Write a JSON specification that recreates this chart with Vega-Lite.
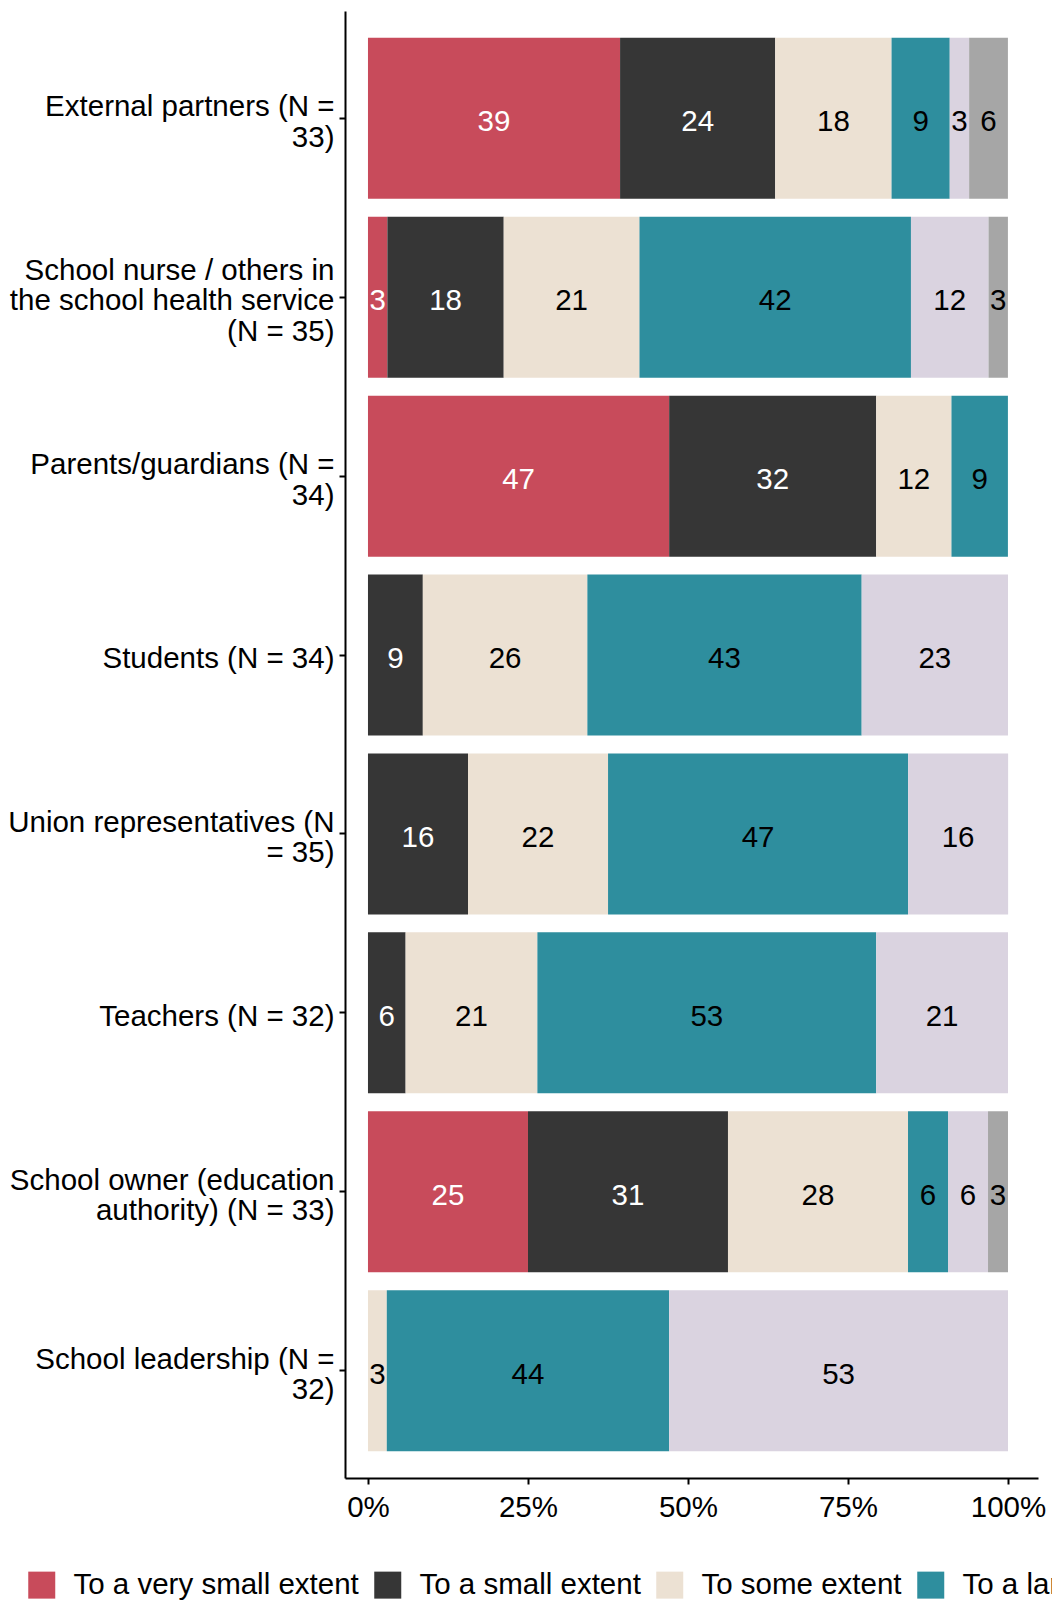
{
  "$schema": "https://vega.github.io/schema/vega-lite/v6.json",
  "width": 693,
  "height": 1467,
  "autosize": {"type": "none"},
  "padding": {"left": 345, "top": 11, "right": 14, "bottom": 128},
  "background": "white",
  "config": {"view": {"stroke": null}, "font": "Liberation Sans"},
  "data": {"values": [
    {"group": "External partners (N =\n33)", "cat": "To a very small extent", "k": 1, "pct": 39.39},
    {"group": "External partners (N =\n33)", "cat": "To a small extent", "k": 2, "pct": 24.24},
    {"group": "External partners (N =\n33)", "cat": "To some extent", "k": 3, "pct": 18.18},
    {"group": "External partners (N =\n33)", "cat": "To a large extent", "k": 4, "pct": 9.09},
    {"group": "External partners (N =\n33)", "cat": "To a very large extent", "k": 5, "pct": 3.03},
    {"group": "External partners (N =\n33)", "cat": "Don't know", "k": 6, "pct": 6.06},

    {"group": "School nurse / others in\nthe school health service\n(N = 35)", "cat": "To a very small extent", "k": 1, "pct": 3.03},
    {"group": "School nurse / others in\nthe school health service\n(N = 35)", "cat": "To a small extent", "k": 2, "pct": 18.18},
    {"group": "School nurse / others in\nthe school health service\n(N = 35)", "cat": "To some extent", "k": 3, "pct": 21.21},
    {"group": "School nurse / others in\nthe school health service\n(N = 35)", "cat": "To a large extent", "k": 4, "pct": 42.42},
    {"group": "School nurse / others in\nthe school health service\n(N = 35)", "cat": "To a very large extent", "k": 5, "pct": 12.12},
    {"group": "School nurse / others in\nthe school health service\n(N = 35)", "cat": "Don't know", "k": 6, "pct": 3.03},

    {"group": "Parents/guardians (N =\n34)", "cat": "To a very small extent", "k": 1, "pct": 47.06},
    {"group": "Parents/guardians (N =\n34)", "cat": "To a small extent", "k": 2, "pct": 32.35},
    {"group": "Parents/guardians (N =\n34)", "cat": "To some extent", "k": 3, "pct": 11.76},
    {"group": "Parents/guardians (N =\n34)", "cat": "To a large extent", "k": 4, "pct": 8.82},

    {"group": "Students (N = 34)", "cat": "To a small extent", "k": 2, "pct": 8.57},
    {"group": "Students (N = 34)", "cat": "To some extent", "k": 3, "pct": 25.71},
    {"group": "Students (N = 34)", "cat": "To a large extent", "k": 4, "pct": 42.86},
    {"group": "Students (N = 34)", "cat": "To a very large extent", "k": 5, "pct": 22.86},

    {"group": "Union representatives (N\n= 35)", "cat": "To a small extent", "k": 2, "pct": 15.63},
    {"group": "Union representatives (N\n= 35)", "cat": "To some extent", "k": 3, "pct": 21.88},
    {"group": "Union representatives (N\n= 35)", "cat": "To a large extent", "k": 4, "pct": 46.88},
    {"group": "Union representatives (N\n= 35)", "cat": "To a very large extent", "k": 5, "pct": 15.63},

    {"group": "Teachers (N = 32)", "cat": "To a small extent", "k": 2, "pct": 5.88},
    {"group": "Teachers (N = 32)", "cat": "To some extent", "k": 3, "pct": 20.59},
    {"group": "Teachers (N = 32)", "cat": "To a large extent", "k": 4, "pct": 52.94},
    {"group": "Teachers (N = 32)", "cat": "To a very large extent", "k": 5, "pct": 20.59},

    {"group": "School owner (education\nauthority) (N = 33)", "cat": "To a very small extent", "k": 1, "pct": 25.0},
    {"group": "School owner (education\nauthority) (N = 33)", "cat": "To a small extent", "k": 2, "pct": 31.25},
    {"group": "School owner (education\nauthority) (N = 33)", "cat": "To some extent", "k": 3, "pct": 28.13},
    {"group": "School owner (education\nauthority) (N = 33)", "cat": "To a large extent", "k": 4, "pct": 6.25},
    {"group": "School owner (education\nauthority) (N = 33)", "cat": "To a very large extent", "k": 5, "pct": 6.25},
    {"group": "School owner (education\nauthority) (N = 33)", "cat": "Don't know", "k": 6, "pct": 3.12},

    {"group": "School leadership (N =\n32)", "cat": "To some extent", "k": 3, "pct": 2.94},
    {"group": "School leadership (N =\n32)", "cat": "To a large extent", "k": 4, "pct": 44.12},
    {"group": "School leadership (N =\n32)", "cat": "To a very large extent", "k": 5, "pct": 52.94}
  ]},
  "encoding": {
    "y": {
      "field": "group",
      "type": "nominal",
      "sort": [
        "External partners (N =\n33)",
        "School nurse / others in\nthe school health service\n(N = 35)",
        "Parents/guardians (N =\n34)",
        "Students (N = 34)",
        "Union representatives (N\n= 35)",
        "Teachers (N = 32)",
        "School owner (education\nauthority) (N = 33)",
        "School leadership (N =\n32)"
      ],
      "scale": {"paddingInner": 0.1, "paddingOuter": 0.15},
      "axis": {
        "title": null,
        "labelExpr": "split(datum.label, '\\n')",
        "labelFontSize": 29.5,
        "labelColor": "black",
        "labelLineHeight": 30.5,
        "labelLimit": 1000,
        "labelPadding": 5,
        "labelOffset": {
          "condition": [
            {"test": "length(split(datum.value, '\\n')) == 3", "value": -26.5},
            {"test": "length(split(datum.value, '\\n')) == 2", "value": -11}
          ],
          "value": 4
        },
        "domainColor": "black",
        "domainWidth": 2,
        "tickColor": "black",
        "tickWidth": 2,
        "tickSize": 6,
        "grid": false
      }
    }
  },
  "layer": [
    {
      "mark": {"type": "bar", "strokeWidth": 0},
      "encoding": {
        "x": {
          "field": "pct",
          "type": "quantitative",
          "stack": "zero",
          "scale": {"domain": [-3.59, 104.69], "nice": false, "zero": false},
          "axis": {
            "title": null,
            "values": [0, 25, 50, 75, 100],
            "labelExpr": "datum.value + '%'",
            "labelFontSize": 29.5,
            "labelColor": "black",
            "labelPadding": 9,
            "labelFlush": false,
            "domainColor": "black",
            "domainWidth": 2,
            "tickColor": "black",
            "tickWidth": 2,
            "tickSize": 6,
            "grid": false
          }
        },
        "order": {"field": "k", "type": "quantitative"},
        "color": {
          "field": "cat",
          "type": "nominal",
          "sort": ["To a very small extent", "To a small extent", "To some extent", "To a large extent", "To a very large extent", "Don't know"],
          "scale": {
            "domain": ["To a very small extent", "To a small extent", "To some extent", "To a large extent", "To a very large extent", "Don't know"],
            "range": ["#C84B5B", "#363636", "#ECE1D3", "#2E8E9E", "#DAD3E0", "#A6A6A6"]
          },
          "legend": {
            "orient": "none",
            "legendX": -318,
            "legendY": 1559,
            "direction": "horizontal",
            "title": null,
            "symbolType": "square",
            "symbolSize": 729,
            "symbolStrokeWidth": 0,
            "symbolOpacity": 1,
            "labelFontSize": 29.5,
            "labelColor": "black",
            "labelOffset": 17,
            "columnPadding": 14,
            "labelLimit": 1000,
            "padding": 0
          }
        }
      }
    },
    {
      "mark": {"type": "text", "fontSize": 29.5, "font": "Liberation Sans", "dy": 4},
      "encoding": {
        "x": {"field": "pct", "type": "quantitative", "stack": "zero", "bandPosition": 0.5},
        "detail": {"field": "cat"},
        "order": {"field": "k", "type": "quantitative"},
        "text": {"field": "pct", "type": "quantitative", "format": ".0f"},
        "color": {"condition": {"test": "datum.k <= 2", "value": "white"}, "value": "black"}
      }
    }
  ]
}
